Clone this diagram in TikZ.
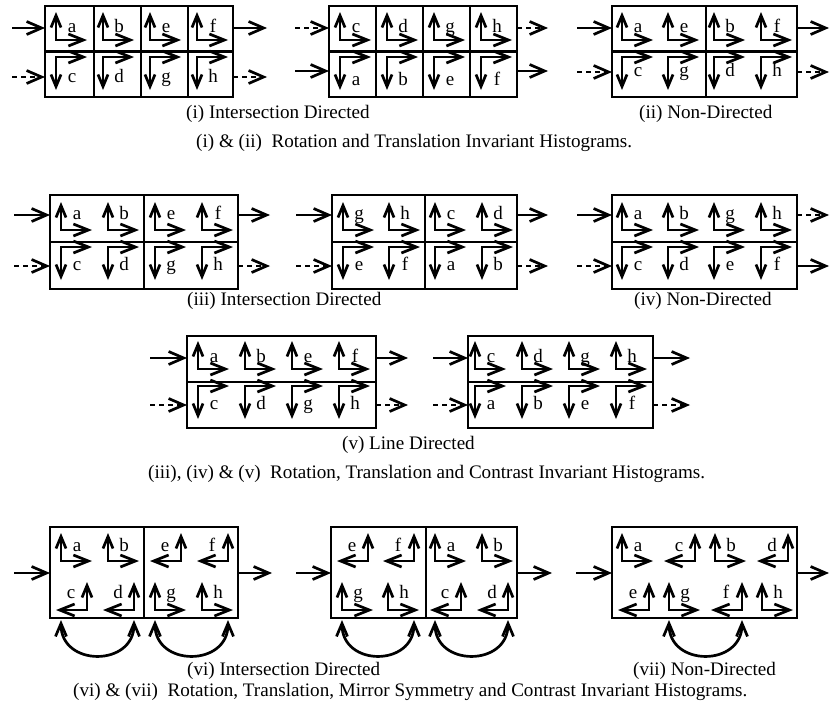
\documentclass[tikz,border=0pt]{standalone}
\usepackage{fontspec}
\setmainfont{Liberation Serif}
\usetikzlibrary{arrows.meta}
\newcount\glcnt
\tikzset{
 boxn/.style={draw, line width=2.8pt, inner sep=0pt, outer sep=0pt},
 boxl/.style={line width=2.8pt},
 gl/.style={line width=2.7pt, line join=miter, {Straight Barb[length=12pt,width=10pt]}-{Straight Barb[length=15pt,width=12pt]}},
 lp/.style={line width=2.7pt, {Straight Barb[length=13pt,width=11pt]}-{Straight Barb[length=13pt,width=11pt]}},
 io/.style={line width=2.7pt, -{Straight Barb[length=15pt,width=13pt]}},
 iod/.style={io, dash pattern=on 5pt off 4pt},
 lab/.style={anchor=base, inner sep=0pt, font=\fontsize{19}{21}\selectfont},
 captxt/.style={anchor=base west, inner sep=0pt, font=\fontsize{19.1}{21}\selectfont},
}
% up-right glyph: x, corner y, label, label baseline y
\newcommand\gU[4]{\global\advance\glcnt by 1
 \draw[gl] (#1,#2-28) -- (#1,#2) -- (#1+31,#2);
 \node[lab] (gl\the\glcnt) at (#1+16,#4) {#3};}
% down-right glyph
\newcommand\gD[4]{\global\advance\glcnt by 1
 \draw[gl] (#1,#2+33) -- (#1,#2) -- (#1+31,#2);
 \node[lab] (gl\the\glcnt) at (#1+16,#4) {#3};}
% up-left (mirrored) glyph
\newcommand\gM[4]{\global\advance\glcnt by 1
 \draw[gl] (#1,#2-28) -- (#1,#2) -- (#1-31,#2);
 \node[lab] (gl\the\glcnt) at (#1-16,#4) {#3};}
% box node: name, L, T, R, B
\newcommand\mkbox[5]{\node[boxn, minimum width={#4pt-#2pt}, minimum height={#5pt-#3pt}] (#1) at ({(#2+#4)/2},{(#3+#5)/2}) {};}
% in/out arrows: style, box, y, x of free end
\newcommand\arin[4]{\coordinate (#2i#3) at (#4,#3); \draw[#1] (#2i#3) -- (#2i#3 -| #2.west);}
\newcommand\arout[4]{\coordinate (#2o#3) at (#4,#3); \draw[#1] (#2o#3 -| #2.east) -- (#2o#3);}
\begin{document}
\begin{tikzpicture}[x=1pt,y=-1pt]
\useasboundingbox (0,0) rectangle (830,704);
\fill[white] (0,0) rectangle (830,704);
%% ---------- Row 1 ----------
\mkbox{A1}{45}{6}{233}{97}
\draw[boxl] (A1.west) -- (A1.east);
\foreach \x in {94,141,188} \draw[boxl] (\x,6) -- (\x,97);
\gU{56}{40}{a}{32} \gU{103}{40}{b}{32} \gU{150}{40}{e}{32} \gU{197}{40}{f}{32}
\gD{56}{57}{c}{82} \gD{103}{57}{d}{82} \gD{150}{57}{g}{82} \gD{197}{57}{h}{82}
\arin{io}{A1}{28}{12} \arin{iod}{A1}{77}{12}
\arout{io}{A1}{28}{267} \arout{iod}{A1}{77}{267}

\mkbox{A2}{329}{6}{517}{97}
\draw[boxl] (A2.west) -- (A2.east);
\foreach \x in {376,423,470} \draw[boxl] (\x,6) -- (\x,97);
\gU{340}{40}{c}{32} \gU{387}{40}{d}{32} \gU{434}{40}{g}{32} \gU{481}{40}{h}{32}
\gD{340}{57}{a}{85} \gD{387}{57}{b}{85} \gD{434}{57}{e}{85} \gD{481}{57}{f}{85}
\arin{iod}{A2}{28}{295} \arin{io}{A2}{71}{295}
\arout{iod}{A2}{28}{548} \arout{io}{A2}{71}{548}

\mkbox{A3}{612}{6}{797}{97}
\draw[boxl] (A3.west) -- (A3.east);
\draw[boxl] (706,6) -- (706,97);
\gU{622}{40}{a}{32} \gU{668}{40}{e}{32} \gU{714}{40}{b}{32} \gU{761}{40}{f}{32}
\gD{622}{57}{c}{76} \gD{668}{57}{g}{76} \gD{714}{57}{d}{76} \gD{761}{57}{h}{76}
\arin{io}{A3}{28}{577} \arin{iod}{A3}{72}{577}
\arout{io}{A3}{28}{829} \arout{iod}{A3}{72}{829}

\node[captxt] (capA1) at (186,118) {(i) Intersection Directed};
\node[captxt] (capA2) at (639,118) {(ii) Non-Directed};
\node[captxt] (capA) at (196,147) {(i) \& (ii)\ \ Rotation and Translation Invariant Histograms.};

%% ---------- Row 2 ----------
\mkbox{C1}{50}{195}{238}{289}
\draw[boxl] (C1.west) -- (C1.east);
\draw[boxl] (144,195) -- (144,289);
\gU{61}{230}{a}{219} \gU{108}{230}{b}{219} \gU{155}{230}{e}{219} \gU{202}{230}{f}{219}
\gD{61}{247}{c}{270} \gD{108}{247}{d}{270} \gD{155}{247}{g}{270} \gD{202}{247}{h}{270}
\arin{io}{C1}{215}{14} \arin{iod}{C1}{266}{14}
\arout{io}{C1}{215}{270} \arout{iod}{C1}{266}{270}

\mkbox{C2}{332}{195}{517}{289}
\draw[boxl] (C2.west) -- (C2.east);
\draw[boxl] (425,195) -- (425,289);
\gU{343}{230}{g}{219} \gU{389}{230}{h}{219} \gU{435}{230}{c}{219} \gU{482}{230}{d}{219}
\gD{343}{247}{e}{270} \gD{389}{247}{f}{270} \gD{435}{247}{a}{270} \gD{482}{247}{b}{270}
\arin{io}{C2}{215}{296} \arin{iod}{C2}{266}{296}
\arout{io}{C2}{215}{548} \arout{iod}{C2}{266}{548}

\mkbox{C3}{612}{195}{797}{289}
\draw[boxl] (C3.west) -- (C3.east);
\gU{622}{230}{a}{219} \gU{668}{230}{b}{219} \gU{714}{230}{g}{219} \gU{761}{230}{h}{219}
\gD{622}{247}{c}{270} \gD{668}{247}{d}{270} \gD{714}{247}{e}{270} \gD{761}{247}{f}{270}
\arin{io}{C3}{215}{577} \arin{iod}{C3}{266}{577}
\arout{iod}{C3}{215}{829} \arout{io}{C3}{266}{829}

\node[captxt] (capC1) at (187,305) {(iii) Intersection Directed};
\node[captxt] (capC2) at (634,305) {(iv) Non-Directed};

%% ---------- Row 3 ----------
\mkbox{D1}{187}{336}{376}{428}
\draw[boxl] (D1.west) -- (D1.east);
\gU{198}{369}{a}{362} \gU{245}{369}{b}{362} \gU{292}{369}{e}{362} \gU{339}{369}{f}{362}
\gD{198}{386}{c}{409} \gD{245}{386}{d}{409} \gD{292}{386}{g}{409} \gD{339}{386}{h}{409}
\arin{io}{D1}{358}{150} \arin{iod}{D1}{405}{150}
\arout{io}{D1}{358}{408} \arout{iod}{D1}{405}{408}

\mkbox{D2}{468}{336}{653}{428}
\draw[boxl] (D2.west) -- (D2.east);
\gU{475}{369}{c}{362} \gU{522}{369}{d}{362} \gU{569}{369}{g}{362} \gU{616}{369}{h}{362}
\gD{475}{386}{a}{409} \gD{522}{386}{b}{409} \gD{569}{386}{e}{409} \gD{616}{386}{f}{409}
\arin{io}{D2}{358}{433} \arin{iod}{D2}{405}{433}
\arout{io}{D2}{358}{690} \arout{iod}{D2}{405}{690}

\node[captxt] (capD1) at (342,449) {(v) Line Directed};
\node[captxt] (capD) at (148,478) {(iii), (iv) \& (v)\ \ Rotation, Translation and Contrast Invariant Histograms.};

%% ---------- Row 4 ----------
\mkbox{E1}{50}{527}{238}{618}
\draw[boxl] (144,527) -- (144,618);
\gU{61}{561}{a}{551} \gU{108}{561}{b}{551} \gM{181}{561}{e}{551} \gM{228}{561}{f}{551}
\gM{87}{610}{c}{598} \gM{134}{610}{d}{598} \gU{155}{610}{g}{598} \gU{202}{610}{h}{598}
\draw[lp] (61,620) .. controls (61,667) and (134,667) .. (134,620);
\draw[lp] (155,620) .. controls (155,667) and (228,667) .. (228,620);
\arin{io}{E1}{573}{14}
\arout{io}{E1}{573}{272}

\mkbox{E2}{331}{527}{517}{618}
\draw[boxl] (426,527) -- (426,618);
\gM{368}{561}{e}{551} \gM{414}{561}{f}{551} \gU{435}{561}{a}{551} \gU{482}{561}{b}{551}
\gU{342}{610}{g}{598} \gU{388}{610}{h}{598} \gM{461}{610}{c}{598} \gM{508}{610}{d}{598}
\draw[lp] (342,620) .. controls (342,667) and (414,667) .. (414,620);
\draw[lp] (435,620) .. controls (435,667) and (508,667) .. (508,620);
\arin{io}{E2}{573}{296}
\arout{io}{E2}{573}{552}

\mkbox{E3}{612}{527}{797}{618}
\gU{622}{561}{a}{551} \gM{695}{561}{c}{551} \gU{715}{561}{b}{551} \gM{788}{561}{d}{551}
\gM{649}{610}{e}{598} \gU{669}{610}{g}{598} \gM{742}{610}{f}{598} \gU{762}{610}{h}{598}
\draw[lp] (669,620) .. controls (669,667) and (742,667) .. (742,620);
\arin{io}{E3}{573}{576}
\arout{io}{E3}{573}{829}

\node[captxt] (capE1) at (187,675) {(vi) Intersection Directed};
\node[captxt] (capE2) at (633,675) {(vii) Non-Directed};
\node[captxt] (capE) at (73,696) {(vi) \& (vii)\ \ Rotation, Translation, Mirror Symmetry and Contrast Invariant Histograms.};
\end{tikzpicture}
\end{document}
